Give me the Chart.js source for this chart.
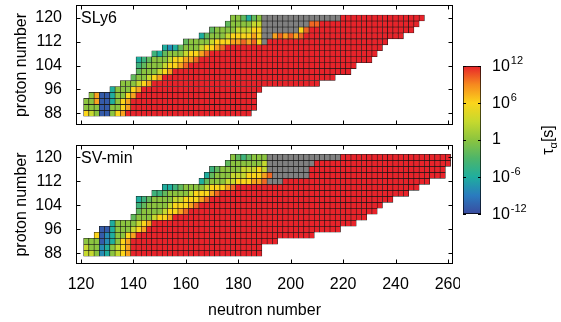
<!DOCTYPE html>
<html>
<head>
<meta charset="utf-8">
<script src="https://cdn.jsdelivr.net/npm/chart.js@4.4.1/dist/chart.umd.min.js"></script>
<style>
  html, body { margin: 0; padding: 0; background: #fff; }
  #wrap { position: relative; width: 561px; height: 322px; overflow: hidden; }
  canvas { position: absolute; }
</style>
</head>
<body>
<div id="wrap">
  <canvas id="sly6" width="460" height="130" style="left:0;top:0"></canvas>
  <canvas id="svmin" width="460" height="182" style="left:0;top:140px"></canvas>
  <canvas id="cbar" width="121" height="170" style="left:440px;top:56px"></canvas>
</div>
<script>
// proton numbers of the rows (even-even nuclei)
const zValues = [88, 90, 92, 94, 96, 98, 100, 102, 104, 106, 108, 110, 112, 114, 116, 118, 120];
const nTicks = [120, 140, 160, 180, 200, 220, 240, 260];
const zTicks = [88, 96, 104, 112, 120];
const cbExponents = [12, 6, 0, -6, -12];

const codeLevels = { B: -11, b: -8, T: -6, t: -4, g: -2, G: 0, l: 3, Y: 6, O: 8, o: 10, R: 12, x: null };

// SLy6: first / last neutron number per row, then the cell codes from the left (rest of row is red)
const sly6Start = [122, 122, 122, 124, 132, 136, 140, 142, 142, 142, 148, 152, 160, 166, 170, 176, 178];
const sly6End = [184, 186, 186, 186, 188, 210, 216, 222, 224, 230, 232, 234, 236, 242, 246, 248, 250];
const sly6Head = [
  'YlGBBGYO',
  'GGGBBGGYO',
  'GGOBBTGYO',
  'GOBBTGGYO',
  'TGGGYO',
  'GGGlYO',
  'gGGlYO',
  'gGGGlYO',
  'tgGGGlYYOo',
  'TtgGGGlYYOOo',
  'tTgGGGlYYOo',
  'TbTgGGGlYYOo',
  'gGGGGlYYYOOoOoYx',
  'TgGGGlYYYYOYxxOoOoOo',
  'gGGGGlllYYxxxxxxxYo',
  'gGGGGllxxxxxxxxxoo',
  'GGgTgGxxxxxxxxxxxxxxx'
];

// SV-min
const svminStart = [122, 122, 122, 126, 128, 132, 140, 142, 142, 142, 148, 152, 166, 168, 170, 176, 178];
const svminEnd = [188, 188, 194, 208, 218, 224, 228, 232, 234, 238, 244, 248, 252, 258, 258, 260, 260];
const svminHead = [
  'llGbTGlYO',
  'lGGbTGlYO',
  'GGGBbTGYO',
  'YBbTGGYO',
  'BBTGGGlYO',
  'TGGGGlYO',
  'gGGGlYYO',
  'gGGGGlYYOo',
  'tgGGGGlYYYOo',
  'TtgGGGGllYYYOo',
  'ttgGGGGlYYYOo',
  'TTtgGGGGlYYYOo',
  'TgGGGllYYYOOoxxx',
  'TgGGGlllYYYOoxxxxxxx',
  'tgGGGGlllYlxxxxxxxx',
  'gGGGGGGlxxxxxxxxx',
  'GgtgGGGxxxxxxxxxxxxxx'
];

const cmap = [
  [-12, '#3a4b9f'], [-9, '#2a7bbf'], [-6, '#1fae9e'], [-3, '#4db56a'], [0, '#8bc43f'],
  [3, '#c6d92e'], [6, '#fbd51b'], [9, '#f6891f'], [12, '#e8232a']
];
const FONT = '"Liberation Sans", Arial, Helvetica, sans-serif';
Chart.defaults.font.family = FONT;
Chart.defaults.color = '#000';

function rgb(hex) {
  return [1, 3, 5].map(i => parseInt(hex.substr(i, 2), 16));
}

function colorAt(v) {
  if (v === null || v === undefined) return '#808080';
  v = Math.max(-12, Math.min(12, v));
  for (let i = 1; i < cmap.length; i++) {
    if (v <= cmap[i][0]) {
      const [v0, c0] = cmap[i - 1];
      const [v1, c1] = cmap[i];
      const t = (v - v0) / (v1 - v0);
      const a = rgb(c0), b = rgb(c1);
      return 'rgb(' + a.map((x, k) => Math.round(x + (b[k] - x) * t)).join(',') + ')';
    }
  }
  return cmap[cmap.length - 1][1];
}

function buildCells(starts, ends, heads) {
  const cells = [];
  zValues.forEach((z, i) => {
    for (let n = starts[i], k = 0; n <= ends[i]; n += 2, k++) {
      const code = heads[i][k] || 'R';
      cells.push({ x: n, y: [z - 1, z + 1], v: codeLevels[code] });
    }
  });
  return cells;
}

// box round the plot, inward ticks on all four sides, panel name
const panelFrame = {
  id: 'panelFrame',
  afterDraw(chart, args, opts) {
    const { ctx, chartArea: a, scales } = chart;
    const L = Math.round(a.left) + 0.5, R = Math.round(a.right) - 0.5;
    const T = Math.round(a.top) + 0.5, B = Math.round(a.bottom) - 0.5;
    ctx.save();
    ctx.strokeStyle = '#000';
    ctx.lineWidth = 1;
    ctx.strokeRect(L, T, R - L, B - T);
    ctx.beginPath();
    scales.x.ticks.forEach(t => {
      const px = Math.round(scales.x.getPixelForValue(t.value)) + 0.5;
      ctx.moveTo(px, B); ctx.lineTo(px, B - 4);
      ctx.moveTo(px, T); ctx.lineTo(px, T + 4);
    });
    scales.y.ticks.forEach(t => {
      const py = Math.round(scales.y.getPixelForValue(t.value)) + 0.5;
      ctx.moveTo(L, py); ctx.lineTo(L + 4, py);
      ctx.moveTo(R, py); ctx.lineTo(R - 4, py);
    });
    ctx.stroke();
    ctx.fillStyle = '#000';
    ctx.font = '16px ' + FONT;
    ctx.textBaseline = 'top';
    ctx.textAlign = 'left';
    ctx.fillText(opts.label, a.left + 5, a.top + 6);
    ctx.restore();
  }
};

function heatChart(id, cells, label, showX, yMin, yMax) {
  return new Chart(document.getElementById(id), {
    type: 'bar',
    data: {
      datasets: [{
        data: cells,
        backgroundColor: c => colorAt(c.raw ? c.raw.v : 12),
        borderColor: '#161616',
        borderWidth: 0.6,
        borderSkipped: false,
        barPercentage: 1,
        categoryPercentage: 1
      }]
    },
    options: {
      responsive: false,
      animation: false,
      events: [],
      layout: { padding: { top: 5, right: 7, bottom: showX ? 0 : 5, left: 0 } },
      plugins: {
        legend: { display: false },
        tooltip: { enabled: false },
        panelFrame: { label: label }
      },
      scales: {
        x: {
          type: 'linear',
          min: 118.09,
          max: 261.91,
          bounds: 'data',
          offset: false,
          grid: { display: false, drawTicks: false, offset: false },
          border: { display: false },
          ticks: { display: showX, padding: 11, font: { size: 16 } },
          title: { display: showX, text: 'neutron number', font: { size: 16 }, padding: { top: 0, bottom: 2 } },
          afterBuildTicks: s => { s.ticks = nTicks.map(v => ({ value: v })); },
          afterFit: s => { s.height = showX ? 58 : 0; s.paddingLeft = 0; s.paddingRight = 0; }
        },
        y: {
          type: 'linear',
          min: yMin,
          max: yMax,
          bounds: 'data',
          beginAtZero: false,
          grid: { display: false, drawTicks: false },
          border: { display: false },
          ticks: { padding: 14, font: { size: 16 } },
          title: { display: true, text: 'proton number', font: { size: 16 }, padding: { top: 12, bottom: 0 } },
          afterBuildTicks: s => { s.ticks = zTicks.map(v => ({ value: v })); },
          afterFit: s => { s.width = 76; s.paddingTop = 0; s.paddingBottom = 0; }
        }
      }
    },
    plugins: [panelFrame]
  });
}

heatChart('sly6', buildCells(sly6Start, sly6End, sly6Head), 'SLy6', false, 84.07, 124.37);
heatChart('svmin', buildCells(svminStart, svminEnd, svminHead), 'SV-min', true, 84.43, 124.1);

// colour bar with its labels and title
const cbarLabels = {
  id: 'cbarLabels',
  afterDraw(chart) {
    const { ctx, chartArea: a, scales } = chart;
    ctx.save();
    ctx.strokeStyle = '#000';
    ctx.lineWidth = 1;
    ctx.beginPath();
    cbExponents.forEach(e => {
      const y = Math.round(scales.y.getPixelForValue(Math.pow(10, e))) + 0.5;
      ctx.moveTo(a.left, y); ctx.lineTo(a.left + 3, y);
      ctx.moveTo(a.right, y); ctx.lineTo(a.right - 3, y);
    });
    ctx.stroke();
    ctx.fillStyle = '#000';
    ctx.textBaseline = 'middle';
    ctx.textAlign = 'left';
    cbExponents.forEach(e => {
      const y = scales.y.getPixelForValue(Math.pow(10, e));
      const x = a.right + 11;
      ctx.font = '16px ' + FONT;
      if (e === 0) { ctx.fillText('1', x, y); return; }
      ctx.fillText('10', x, y + 1);
      const w = ctx.measureText('10').width;
      ctx.font = '11px ' + FONT;
      ctx.fillText(String(e), x + w + 1, y - 5);
    });
    // rotated title tau_alpha [s]
    ctx.translate(a.right + 66, (a.top + a.bottom) / 2);
    ctx.rotate(-Math.PI / 2);
    ctx.textBaseline = 'alphabetic';
    ctx.font = '16px ' + FONT;
    const w1 = ctx.measureText('\u03C4').width;
    const w3 = ctx.measureText('[s]').width;
    ctx.font = '11px ' + FONT;
    const w2 = ctx.measureText('\u03B1').width;
    let x0 = -(w1 + w2 + w3) / 2;
    ctx.font = '16px ' + FONT;
    ctx.fillText('\u03C4', x0, 6);
    ctx.font = '11px ' + FONT;
    ctx.fillText('\u03B1', x0 + w1, 10);
    ctx.font = '16px ' + FONT;
    ctx.fillText('[s]', x0 + w1 + w2, 6);
    ctx.restore();
  }
};

new Chart(document.getElementById('cbar'), {
  type: 'bar',
  data: {
    labels: ['tau'],
    datasets: [{
      data: [[1e-12, 1e12]],
      backgroundColor: c => {
        const a = c.chart.chartArea;
        if (!a) return '#888';
        const g = c.chart.ctx.createLinearGradient(0, a.bottom, 0, a.top);
        cmap.forEach(([v, col]) => g.addColorStop((v + 12) / 24, col));
        return g;
      },
      borderColor: '#000',
      borderWidth: 1,
      borderSkipped: false,
      barPercentage: 1,
      categoryPercentage: 1
    }]
  },
  options: {
    responsive: false,
    animation: false,
    events: [],
    layout: { padding: { left: 23, right: 80, top: 10, bottom: 12 } },
    plugins: { legend: { display: false }, tooltip: { enabled: false } },
    scales: {
      x: { display: false },
      y: { type: 'logarithmic', display: false, min: 1e-12, max: 1e12 }
    }
  },
  plugins: [cbarLabels]
});
</script>
</body>
</html>
